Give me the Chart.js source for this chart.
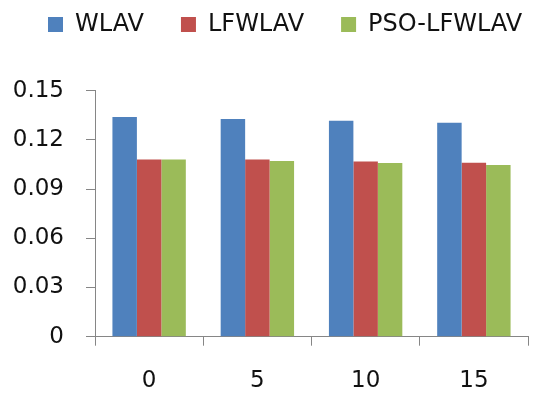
<!DOCTYPE html>
<html>
<head>
<meta charset="utf-8">
<script src="https://cdn.jsdelivr.net/npm/chart.js@4/dist/chart.umd.min.js"></script>
<style>
  html, body { margin: 0; padding: 0; background: #ffffff; }
  #wrap { width: 536px; height: 400px; }
</style>
</head>
<body>
<div id="wrap"><canvas id="c" width="536" height="400"></canvas></div>
<script>
// Noise levels on the x axis
const categories = ['0', '5', '10', '15'];

// Error values per method
const wlav = [0.1340, 0.1327, 0.1317, 0.1305];
const lfwlav = [0.1080, 0.1080, 0.1069, 0.1061];
const psoLfwlav = [0.1080, 0.1071, 0.1059, 0.1047];

const seriesNames = ['WLAV', 'LFWLAV', 'PSO-LFWLAV'];
const seriesColors = ['#4F81BD', '#C0504D', '#9BBB59'];

// Value axis
const yMin = 0;
const yMax = 0.15;
const yStep = 0.03;

const axisGray = '#868686';
const textColor = '#111111';
const fontFamily = '"DejaVu Sans", sans-serif';

// Keep the legend on one wide row and give it a fixed band height above the plot
const legendBand = {
  id: 'legendBand',
  beforeInit(chart) {
    const origFit = chart.legend.fit;
    chart.legend.fit = function () {
      const mw = this.maxWidth;
      this.maxWidth = 2000;
      origFit.bind(chart.legend)();
      this.maxWidth = mw;
      this.width = mw;
      this.height = 115.2;
    };
  },
  afterLayout(chart) {
    if (chart.legend) chart.legend.right = 2000;
  }
};

const seriesData = [wlav, lfwlav, psoLfwlav];

new Chart(document.getElementById('c'), {
  type: 'bar',
  data: {
    labels: categories,
    datasets: seriesNames.map((name, i) => ({
      label: name,
      data: seriesData[i],
      backgroundColor: seriesColors[i],
      borderWidth: 0,
      categoryPercentage: 0.678,
      barPercentage: 1.0
    }))
  },
  options: {
    responsive: false,
    animation: false,
    devicePixelRatio: 1,
    layout: { padding: { top: -24.5, left: 11, right: 8, bottom: 0 } },
    plugins: {
      tooltip: { enabled: false },
      legend: {
        position: 'top',
        align: 'start',
        labels: {
          boxWidth: 15,
          boxHeight: 15,
          padding: 37,
          color: textColor,
          font: { family: fontFamily, size: 24 }
        }
      }
    },
    scales: {
      x: {
        afterFit(scale) { scale.height = 63.3; },
        grid: {
          display: true,
          offset: true,
          drawOnChartArea: false,
          drawTicks: true,
          tickLength: 9,
          color: axisGray,
          lineWidth: 1
        },
        border: { display: true, color: axisGray, width: 1 },
        ticks: {
          color: textColor,
          padding: 22,
          font: { family: fontFamily, size: 23 },
          maxRotation: 0
        }
      },
      y: {
        min: yMin,
        max: yMax,
        afterFit(scale) { scale.width = 84; },
        grid: {
          display: true,
          drawOnChartArea: false,
          drawTicks: true,
          tickLength: 9,
          color: axisGray,
          lineWidth: 1
        },
        border: { display: true, color: axisGray, width: 1 },
        ticks: {
          stepSize: yStep,
          color: textColor,
          padding: 22,
          font: { family: fontFamily, size: 23 },
          callback: (v) => String(parseFloat(Number(v).toFixed(2)))
        }
      }
    }
  },
  plugins: [legendBand]
});
</script>
</body>
</html>
